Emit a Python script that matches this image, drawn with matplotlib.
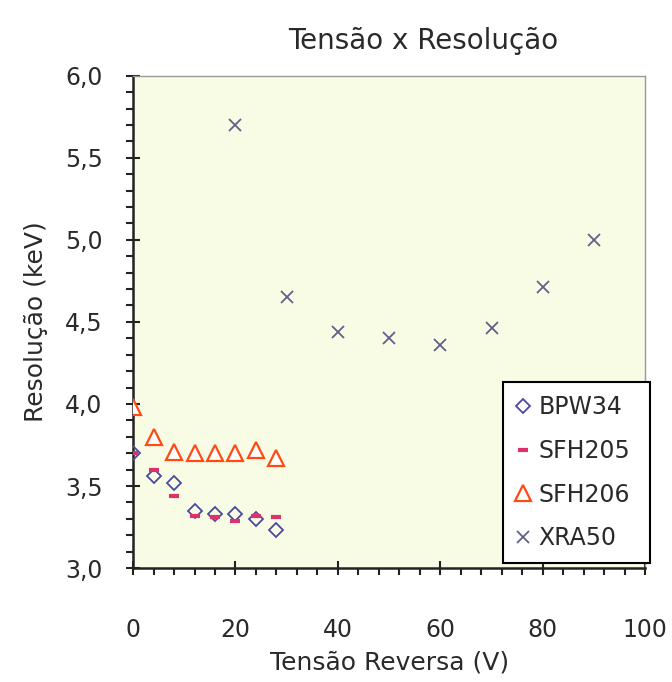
import numpy as np
import matplotlib.pyplot as plt
from matplotlib.ticker import MultipleLocator

plt.rcParams['font.family'] = ['DejaVu Sans']

# data
v_small = [0, 4, 8, 12, 16, 20, 24, 28]
bpw34 = [3.70, 3.56, 3.52, 3.35, 3.33, 3.33, 3.30, 3.23]
sfh205 = [3.70, 3.60, 3.44, 3.32, 3.31, 3.29, 3.32, 3.31]
sfh206 = [3.98, 3.80, 3.71, 3.70, 3.70, 3.70, 3.72, 3.67]
v_xra = [20, 30, 40, 50, 60, 70, 80, 90]
xra50 = [5.70, 4.65, 4.44, 4.40, 4.36, 4.46, 4.71, 5.00]

txt = '#2a2a2a'

fig = plt.figure(figsize=(6.72, 6.82), dpi=100)
ax = fig.add_axes([0.198, 0.167, 0.762, 0.722])
ax.set_facecolor('#f9fce4')

ax.plot(v_small, bpw34, ls='none', marker='D', ms=7, mfc='none',
        mec='#4a4aa0', mew=1.3, label='BPW34', zorder=3)
ax.plot(v_small, sfh205, ls='none', marker='_', ms=7, mec='#e0306a',
        mew=3, label='SFH205', zorder=4)
ax.plot(v_small, sfh206, ls='none', marker='^', ms=11, mfc='white',
        mec='#ff4a14', mew=1.6, label='SFH206', zorder=3)
ax.plot(v_xra, xra50, ls='none', marker='x', ms=8.5, mec='#60608a',
        mew=1.3, label='XRA50', zorder=3)

ax.set_xlim(0, 100)
ax.set_ylim(3.0, 6.0)
ax.xaxis.set_major_locator(MultipleLocator(20))
ax.xaxis.set_minor_locator(MultipleLocator(4))
ax.yaxis.set_major_locator(MultipleLocator(0.5))
ax.yaxis.set_minor_locator(MultipleLocator(0.1))
yt = np.arange(3.0, 6.01, 0.5)
ax.set_yticks(yt)
ax.set_yticklabels([f'{t:.1f}'.replace('.', ',') for t in yt])

ax.tick_params(which='major', direction='inout', length=10, width=1.5,
               labelsize=17, color='#222222', labelcolor=txt)
ax.tick_params(which='minor', direction='out', length=5, width=1.5,
               color='#222222')
ax.tick_params(axis='x', which='major', pad=31)
ax.tick_params(axis='y', which='major', pad=17)

for s in ['left', 'bottom']:
    ax.spines[s].set_linewidth(1.8)
    ax.spines[s].set_color('#222222')
for s in ['top', 'right']:
    ax.spines[s].set_linewidth(1.0)
    ax.spines[s].set_color('#999999')

ax.set_title('Tensão x Resolução', fontsize=20, color=txt, pad=19, x=0.566)
ax.set_xlabel('Tensão Reversa (V)', fontsize=18, color=txt, labelpad=6)
ax.set_ylabel('Resolução (keV)', fontsize=18, color=txt, labelpad=12)

leg = ax.legend(loc='lower left', bbox_to_anchor=(0.723, 0.01, 0.287, 0.362),
                mode='expand', fontsize=17, frameon=True, fancybox=False,
                handlelength=0.6, handletextpad=0.35, borderpad=0.55,
                labelspacing=0.83, borderaxespad=0)
leg.get_frame().set_edgecolor('black')
leg.get_frame().set_linewidth(1.5)
leg.get_frame().set_facecolor('white')
leg.get_frame().set_alpha(1)
for t in leg.get_texts():
    t.set_color(txt)

fig.savefig('out.png', dpi=100)
